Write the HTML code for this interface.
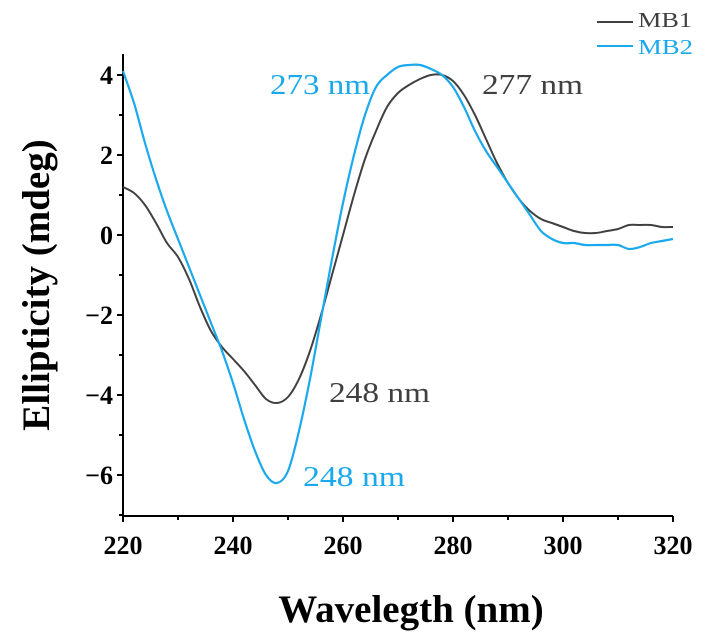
<!DOCTYPE html>
<html><head><meta charset="utf-8"><style>
body{margin:0;background:#fff;}
svg{display:block;font-family:"Liberation Serif",serif;}
</style></head><body>
<svg id="chart" width="711" height="639" viewBox="0 0 711 639" xmlns="http://www.w3.org/2000/svg">
<g id="axes"></g>
<g id="series"></g>
<text transform="translate(49,285) rotate(-90)" text-anchor="middle" font-size="39" font-weight="bold">Ellipticity (mdeg)</text>
<text x="411" y="622" text-anchor="middle" font-size="39" font-weight="bold">Wavelegth (nm)</text>
<text x="270" y="94" font-size="29" textLength="100" lengthAdjust="spacingAndGlyphs" fill="#1aa9ec">273 nm</text>
<text x="482" y="94" font-size="29" textLength="101" lengthAdjust="spacingAndGlyphs" fill="#404040">277 nm</text>
<text x="329" y="402" font-size="29" textLength="101" lengthAdjust="spacingAndGlyphs" fill="#404040">248 nm</text>
<text x="303" y="486" font-size="29" textLength="102" lengthAdjust="spacingAndGlyphs" fill="#1aa9ec">248 nm</text>
<g>
<line x1="597" y1="22" x2="633" y2="22" stroke="#404040" stroke-width="2"/>
<text x="638" y="27" font-size="21" textLength="54" lengthAdjust="spacingAndGlyphs" fill="#404040">MB1</text>
<line x1="597" y1="46" x2="633" y2="46" stroke="#1aa9ec" stroke-width="2"/>
<text x="638" y="54" font-size="21" textLength="55" lengthAdjust="spacingAndGlyphs" fill="#1aa9ec">MB2</text>
</g>
</svg>
<script>
const wavelengths=[220,222,224,226,228,230,232,234,236,238,240,242,244,246,248,250,252,254,256,258,260,262,264,266,268,270,272,274,276,278,280,282,284,286,288,290,292,294,296,298,300,302,304,306,308,310,312,314,316,318,320];
const mb1=[1.2,1.05,0.75,0.3,-0.2,-0.55,-1.1,-1.8,-2.4,-2.8,-3.1,-3.4,-3.75,-4.1,-4.2,-4.05,-3.6,-2.9,-2.0,-1.0,0.0,1.0,1.9,2.6,3.2,3.55,3.75,3.9,4.0,4.0,3.85,3.5,3.0,2.4,1.8,1.3,0.9,0.6,0.4,0.3,0.2,0.1,0.05,0.05,0.1,0.15,0.25,0.25,0.25,0.2,0.2];
const mb2=[4.1,3.3,2.3,1.4,0.6,-0.1,-0.8,-1.5,-2.2,-2.9,-3.7,-4.6,-5.4,-6.0,-6.2,-5.9,-4.9,-3.6,-2.1,-0.6,0.8,2.0,3.0,3.7,4.0,4.2,4.25,4.25,4.15,4.0,3.7,3.2,2.6,2.1,1.7,1.3,0.9,0.5,0.1,-0.1,-0.2,-0.2,-0.25,-0.25,-0.25,-0.25,-0.35,-0.3,-0.2,-0.15,-0.1];
const xTicks=[220,240,260,280,300,320];
const yTicks=[4,2,0,-2,-4,-6];
const NS="http://www.w3.org/2000/svg";
const X0=123,X1=673,Y0=235,YU=40,YTOP=54,YBOT=516;
function sx(v){return X0+(v-220)*(X1-X0)/100;}
function sy(v){return Y0-v*YU;}
function mk(tag,attrs,parent){const e=document.createElementNS(NS,tag);for(const k in attrs)e.setAttribute(k,attrs[k]);parent.appendChild(e);return e;}
const ax=document.getElementById('axes');
let l=mk('line',{x1:X0,y1:YTOP,x2:X0,y2:YBOT,stroke:'#000','stroke-width':2},ax);


l=mk('line',{x1:X0-1,y1:YBOT,x2:X1,y2:YBOT,stroke:'#000','stroke-width':2},ax);


for(let v=220;v<=320;v+=10){
  const major=(v%20===0);
  const t=mk('line',{x1:sx(v),y1:YBOT,x2:sx(v),y2:YBOT+(major?6:4),stroke:'#000','stroke-width':2},ax);
  
  
}
xTicks.forEach(v=>{
  const t=mk('text',{x:sx(v),y:YBOT+38,'text-anchor':'middle','font-size':26,'font-weight':'bold'},ax);
  t.textContent=v;
  
  
});
for(let v=-7;v<=4;v+=1){
  const major=(v%2===0);
  const t=mk('line',{x1:X0,y1:sy(v),x2:X0-(major?6:4),y2:sy(v),stroke:'#000','stroke-width':2},ax);
  
  
}
yTicks.forEach(v=>{
  const t=mk('text',{x:X0-10,y:sy(v)+9,'text-anchor':'end','font-size':26,'font-weight':'bold'},ax);
  t.textContent=v<0?'\u2212'+(-v):String(v);
  
  
});
const sg=document.getElementById('series');
function path(vals){
  const pts=vals.map((v,i)=>[sx(wavelengths[i]),sy(v)]);
  let d='M'+pts[0][0].toFixed(1)+','+pts[0][1].toFixed(1);
  for(let i=0;i<pts.length-1;i++){
    const p0=pts[Math.max(0,i-1)],p1=pts[i],p2=pts[i+1],p3=pts[Math.min(pts.length-1,i+2)];
    const c1x=p1[0]+(p2[0]-p0[0])/6,c1y=p1[1]+(p2[1]-p0[1])/6;
    const c2x=p2[0]-(p3[0]-p1[0])/6,c2y=p2[1]-(p3[1]-p1[1])/6;
    d+=' C'+c1x.toFixed(1)+','+c1y.toFixed(1)+' '+c2x.toFixed(1)+','+c2y.toFixed(1)+' '+p2[0].toFixed(1)+','+p2[1].toFixed(1);
  }
  return d;
}
let p=mk('path',{d:path(mb1),fill:'none',stroke:'#404040','stroke-width':2,'stroke-linejoin':'round'},sg);


p=mk('path',{d:path(mb2),fill:'none',stroke:'#1aa9ec','stroke-width':2.2,'stroke-linejoin':'round'},sg);


</script>
</body></html>
